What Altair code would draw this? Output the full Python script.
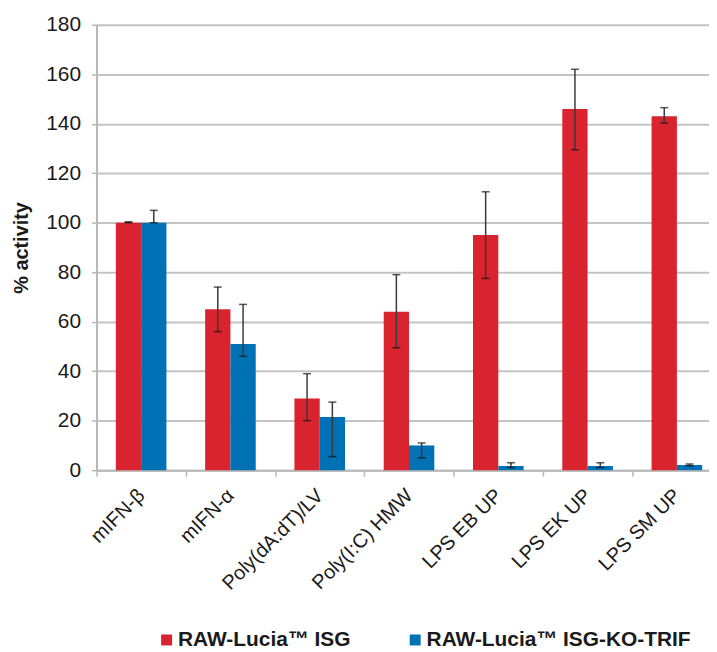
import altair as alt
import pandas as pd

categories = ["mIFN-β", "mIFN-α", "Poly(dA:dT)/LV", "Poly(I:C) HMW",
              "LPS EB UP", "LPS EK UP", "LPS SM UP"]
series = ["RAW-Lucia™ ISG", "RAW-Lucia™ ISG-KO-TRIF"]
colors = ["#d9232e", "#0071b4"]

isg = [100, 65, 29, 64, 95, 146, 143]
isg_lo = [100, 56, 20, 49.5, 77.5, 129.5, 140.3]
isg_hi = [100.4, 74, 39, 79, 112.5, 162, 146.5]
ko = [100, 51, 21.5, 10, 1.7, 1.7, 2.1]
ko_lo = [100, 46, 5.5, 5, 1.1, 1.1, 1.7]
ko_hi = [105, 67, 27.5, 11, 3, 3, 2.5]

rows = []
for i, c in enumerate(categories):
    rows.append({"cat": c, "series": series[0], "v": isg[i], "lo": isg_lo[i], "hi": isg_hi[i]})
    rows.append({"cat": c, "series": series[1], "v": ko[i], "lo": ko_lo[i], "hi": ko_hi[i]})
df = pd.DataFrame(rows)

FONT = "Liberation Sans"
W = 616
STEP = 89.8

x = alt.X("cat:N", sort=categories, title=None,
          scale=alt.Scale(range=[0, STEP * 7], paddingInner=0, paddingOuter=0),
          axis=alt.Axis(labelAngle=-45, labelAlign="right", labelBaseline="middle",
                        labelFontSize=20, labelColor="#1a1a1a",
                        labelFont=FONT, tickBand="extent", tickSize=6,
                        tickColor="#b8b8b8", tickWidth=1.5, domainColor="#b8b8b8",
                        domainWidth=2, labelPadding=16))
xo = alt.XOffset("series:N", sort=series,
                 scale=alt.Scale(domain=series, paddingOuter=0.765, paddingInner=0))

base = alt.Chart(df)

bars = base.mark_bar(stroke=None).encode(
    x=x,
    xOffset=xo,
    y=alt.Y("v:Q", title="% activity",
            scale=alt.Scale(domain=[0, 180]),
            axis=alt.Axis(values=list(range(0, 181, 20)), labelFontSize=21,
                          labelColor="#1a1a1a", labelFont=FONT, tickSize=5,
                          tickColor="#b8b8b8", tickWidth=1.5, domainColor="#b8b8b8",
                          domainWidth=2, gridColor="#c4c4c4", gridWidth=2,
                          labelPadding=11, titleFont=FONT, titleFontSize=20,
                          titleFontWeight="bold", titleColor="#1a1a1a",
                          titlePadding=14)),
    color=alt.Color("series:N", sort=series,
                    scale=alt.Scale(domain=series, range=colors),
                    legend=alt.Legend(title=None, orient="none", direction="horizontal",
                                      legendX=60, legendY=608, symbolType="square",
                                      symbolSize=121, symbolStrokeWidth=0,
                                      labelFont=FONT, labelFontSize=21,
                                      labelFontWeight="bold", labelColor="#1a1a1a",
                                      columnPadding=54, labelLimit=400,
                                      labelOffset=1)),
)

rules = base.mark_rule(color="#3a3a3a", strokeWidth=1.5).encode(
    x=x, xOffset=xo, y="lo:Q", y2="hi:Q")
caps_lo = base.mark_tick(color="#111111", thickness=1.5, size=8).encode(
    x=x, xOffset=xo, y="lo:Q")
caps_hi = base.mark_tick(color="#111111", thickness=1.5, size=8).encode(
    x=x, xOffset=xo, y="hi:Q")

chart = alt.layer(bars, rules, caps_lo, caps_hi).properties(
    width=W, height=448,
    autosize=alt.AutoSizeParams(type="none"),
    padding={"left": 89, "top": 15, "right": 0, "bottom": 180},
).configure_view(stroke=None).configure(background="white")

chart.save("out.html", embed_options={"renderer": "svg", "actions": False})
